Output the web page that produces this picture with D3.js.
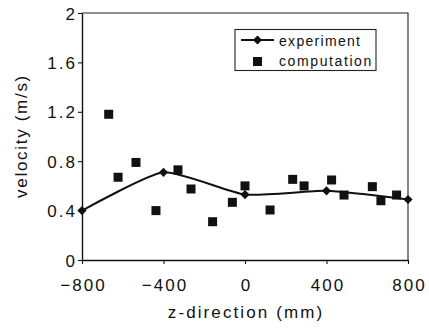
<!DOCTYPE html>
<html>
<head>
<meta charset="utf-8">
<script src="https://cdn.jsdelivr.net/npm/d3@7"></script>
<style>
  html, body { margin: 0; padding: 0; background: #fff; }
  svg { display: block; }
  text { font-family: "Liberation Sans", Arial, Helvetica, sans-serif; fill: #111; }
</style>
</head>
<body>
<svg id="chart" width="429" height="330"></svg>
<script>
// ---- data ----
const expZ = [-800, -400, 0, 400, 800];
const expV = [0.40, 0.71, 0.53, 0.56, 0.49];

const compZ = [-669, -623, -535, -437, -329, -265, -159, -62, 0, 123, 234, 290, 425, 486, 625, 667, 744];
const compV = [1.18, 0.67, 0.79, 0.40, 0.73, 0.575, 0.31, 0.467, 0.60, 0.405, 0.653, 0.60, 0.648, 0.526, 0.594, 0.48, 0.526];

const xTicks = [-800, -400, 0, 400, 800];
const yTicks = [0, 0.4, 0.8, 1.2, 1.6, 2];
const xTickLabels = ["\u2212800", "\u2212400", "0", "400", "800"];
const yTickLabels = ["0", "0.4", "0.8", "1.2", "1.6", "2"];

const xTitle = "z-direction (mm)";
const yTitle = "velocity (m/s)";
const seriesNames = ["experiment", "computation"];

// ---- layout ----
const svg = d3.select("#chart");
const L = 82, R = 408, T = 13, B = 260;
const x = d3.scaleLinear().domain([-800, 800]).range([L, R]);
const y = d3.scaleLinear().domain([0, 2]).range([B, T]);

// frame (top and right)
svg.append("path")
  .attr("d", `M${L},${T}H${R}V${B}`)
  .attr("fill", "none").attr("stroke", "#222").attr("stroke-width", 1.1);

// axes
const xAxis = d3.axisBottom(x).tickValues(xTicks).tickSizeInner(4).tickSizeOuter(0)
  .tickFormat((d, i) => xTickLabels[i]);
const yAxis = d3.axisLeft(y).tickValues(yTicks).tickSizeInner(4).tickSizeOuter(0)
  .tickFormat((d, i) => yTickLabels[i]);

const gx = svg.append("g").attr("transform", `translate(0,${B})`).call(xAxis);
const gy = svg.append("g").attr("transform", `translate(${L},0)`).call(yAxis);

[gx, gy].forEach(g => {
  g.select(".domain").attr("stroke", "#111").attr("stroke-width", 1.4);
  g.selectAll(".tick line").attr("stroke", "#111").attr("stroke-width", 1.1);
  g.selectAll(".tick text")
    .attr("font-family", "Liberation Sans, Arial, sans-serif")
    .attr("font-size", 17).attr("fill", "#111")
    .style("letter-spacing", "2px");
});
gx.selectAll(".tick text").attr("y", 19).attr("dy", "0.71em").attr("dx", 1);
gy.selectAll(".tick text").attr("x", -5).attr("dy", "0.36em");

// axis titles
svg.append("text")
  .attr("x", 246).attr("y", 318)
  .attr("text-anchor", "middle").attr("font-size", 17)
  .style("letter-spacing", "2.1px")
  .text(xTitle);

svg.append("text")
  .attr("transform", "translate(27,136) rotate(-90)")
  .attr("text-anchor", "middle").attr("font-size", 17)
  .style("letter-spacing", "1.7px")
  .text(yTitle);

// experiment line (smoothed)
const expData = expZ.map((z, i) => ({ z, v: expV[i] }));
const line = d3.line().x(d => x(d.z)).y(d => y(d.v)).curve(d3.curveCardinal.tension(0.45));
svg.append("path").datum(expData)
  .attr("d", line).attr("fill", "none")
  .attr("stroke", "#111").attr("stroke-width", 2);

const diamond = (cx, cy, r) => `M${cx},${cy - r}L${cx + r},${cy}L${cx},${cy + r}L${cx - r},${cy}Z`;
svg.append("g").selectAll("path").data(expData).join("path")
  .attr("d", d => diamond(x(d.z), y(d.v), 4.6))
  .attr("fill", "#111");

// computation squares
const compData = compZ.map((z, i) => ({ z, v: compV[i] }));
const sq = 9;
svg.append("g").selectAll("rect").data(compData).join("rect")
  .attr("x", d => x(d.z) - sq / 2).attr("y", d => y(d.v) - sq / 2)
  .attr("width", sq).attr("height", sq).attr("fill", "#111");

// legend
const lg = svg.append("g");
lg.append("rect").attr("x", 235).attr("y", 29.5).attr("width", 141).attr("height", 41)
  .attr("fill", "#fff").attr("stroke", "#222").attr("stroke-width", 1.1);
lg.append("line").attr("x1", 241).attr("x2", 274).attr("y1", 40).attr("y2", 40)
  .attr("stroke", "#111").attr("stroke-width", 2);
lg.append("path").attr("d", diamond(257.5, 40, 4.6)).attr("fill", "#111");
lg.append("rect").attr("x", 253).attr("y", 57).attr("width", 9).attr("height", 9).attr("fill", "#111");
lg.append("text").attr("x", 279).attr("y", 45.5).attr("font-size", 14)
  .style("letter-spacing", "1.3px").text(seriesNames[0]);
lg.append("text").attr("x", 279).attr("y", 66).attr("font-size", 14)
  .style("letter-spacing", "1.6px").text(seriesNames[1]);
</script>
</body>
</html>
